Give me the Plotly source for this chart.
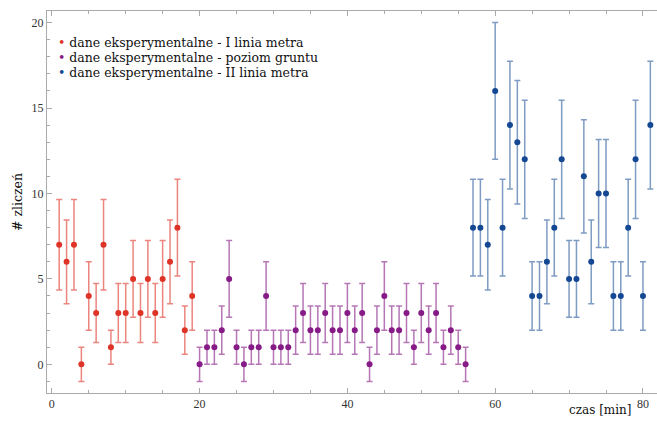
import plotly.graph_objects as go

# time [min]
t_red = list(range(1, 20))
t_purple = list(range(20, 57))
t_blue = list(range(57, 82))

# counts
n_red = [7, 6, 7, 0, 4, 3, 7, 1, 3, 3, 5, 3, 5, 3, 5, 6, 8, 2, 4]
n_purple = [0, 1, 1, 2, 5, 1, 0, 1, 1, 4, 1, 1, 1, 2, 3, 2, 2, 3, 2, 2,
            3, 2, 3, 0, 2, 4, 2, 2, 3, 1, 3, 2, 3, 1, 2, 1, 0]
n_blue = [8, 8, 7, 16, 8, 14, 13, 12, 4, 4, 6, 8, 12, 5, 5, 11, 6, 10, 10,
          4, 4, 8, 12, 4, 14]

# uncertainties (sqrt(N), at least 1)
e_red = [2.65, 2.45, 2.65, 1, 2, 1.73, 2.65, 1, 1.73, 1.73, 2.24, 1.73, 2.24,
         1.73, 2.24, 2.45, 2.83, 1.41, 2]
e_purple = [1, 1, 1, 1.41, 2.24, 1, 1, 1, 1, 2, 1, 1, 1, 1.41, 1.73, 1.41,
            1.41, 1.73, 1.41, 1.41, 1.73, 1.41, 1.73, 1, 1.41, 2, 1.41, 1.41,
            1.73, 1, 1.73, 1.41, 1.73, 1, 1.41, 1, 1]
e_blue = [2.83, 2.83, 2.65, 4, 2.83, 3.74, 3.61, 3.46, 2, 2, 2.45, 2.83, 3.46,
          2.24, 2.24, 3.32, 2.45, 3.16, 3.16, 2, 2, 2.83, 3.46, 2, 3.74]

names = ["dane eksperymentalne - I linia metra",
         "dane eksperymentalne - poziom gruntu",
         "dane eksperymentalne - II linia metra"]

colors = ["rgb(222,52,40)", "rgb(134,26,134)", "rgb(20,72,146)"]
err_colors = ["rgba(222,52,40,0.6)", "rgba(134,26,134,0.6)", "rgba(20,72,146,0.55)"]

series = [(t_red, n_red, e_red), (t_purple, n_purple, e_purple), (t_blue, n_blue, e_blue)]

SERIF = "Liberation Serif"
LEG = "DejaVu Serif"

W, H = 657, 423
L, R, T, B = 47, 0, 11, 30
PW, PH = W - L - R, H - T - B


def px_x(p):
    return (p - L) / PW


def px_y(p):
    return (H - B - p) / PH


fig = go.Figure()
for (t, n, e), name, col, ecol in zip(series, names, colors, err_colors):
    fig.add_trace(go.Scatter(
        x=t, y=n, mode="markers", name=name,
        marker=dict(color=col, size=6),
        error_y=dict(type="data", array=e, visible=True, color=ecol,
                     thickness=1.5, width=3),
    ))

annotations = []
for i, (name, col) in enumerate(zip(names, colors)):
    annotations.append(dict(
        text=f"<span style='color:{col}'>•</span> {name}",
        xref="paper", yref="paper", x=px_x(56), y=px_y(42.5 + 15.2 * i),
        xanchor="left", yanchor="middle", showarrow=False,
        font=dict(family=LEG, size=12.5, color="#111")))
annotations.append(dict(
    text="czas [min]", xref="paper", yref="paper",
    x=px_x(633), y=px_y(410), xanchor="right", yanchor="middle",
    showarrow=False, font=dict(family=LEG, size=12, color="#111")))

fig.update_layout(
    width=W, height=H,
    margin=dict(l=L, r=R, t=T, b=B),
    paper_bgcolor="white", plot_bgcolor="white",
    font=dict(family=SERIF, size=12, color="#222"),
    showlegend=False,
    xaxis=dict(range=[-0.65, 81.9], showgrid=False, zeroline=False,
               showline=True, linecolor="#aaaaaa", linewidth=1, mirror="allticks",
               tickmode="array", tickvals=[0, 20, 40, 60, 80],
               ticks="inside", ticklen=5, tickcolor="#aaaaaa",
               minor=dict(tickmode="array", tickvals=[5, 10, 15, 25, 30, 35, 45, 50, 55, 65, 70, 75],
                          ticks="inside", ticklen=3, tickcolor="#aaaaaa"),
               tickfont=dict(family=SERIF, size=12, color="#333")),
    yaxis=dict(range=[-1.68, 20.68], showgrid=False, zeroline=False,
               showline=True, linecolor="#aaaaaa", linewidth=1,
               tickmode="array", tickvals=[0, 5, 10, 15, 20],
               ticks="inside", ticklen=5, tickcolor="#aaaaaa",
               minor=dict(dtick=1, ticks="inside", ticklen=3, tickcolor="#aaaaaa"),
               tickfont=dict(family=SERIF, size=12, color="#333"),
               title=dict(text="# zliczeń", font=dict(family=LEG, size=12.5, color="#111"),
                          standoff=6)),
    annotations=annotations,
)

fig.write_html("out.html")
